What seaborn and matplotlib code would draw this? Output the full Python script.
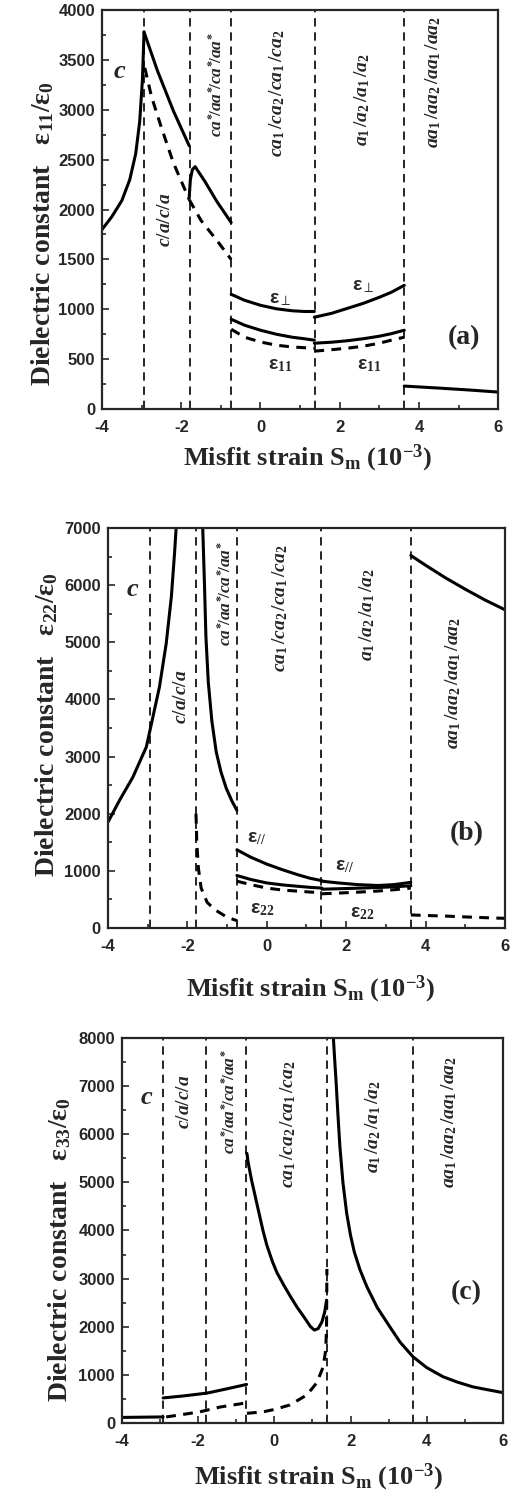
import matplotlib
matplotlib.use("Agg")
import matplotlib.pyplot as plt
import seaborn as sns
from matplotlib.ticker import MultipleLocator

# phase boundaries (misfit strain, 10^-3)
bounds = [-2.93, -1.79, -0.74, 1.37, 3.63]

# ---- panel (a): eps11 ----
a_c_x = [-4.0, -3.75, -3.5, -3.3, -3.15, -3.05, -2.98, -2.94]
a_c_y = [1800, 1930, 2090, 2300, 2560, 2880, 3300, 3780]
a_ca_x = [-2.94, -2.6, -2.2, -1.80]
a_ca_y = [3780, 3390, 2990, 2640]
a_ca_dx = [-2.92, -2.75, -2.5, -2.2, -1.80]
a_ca_dy = [3420, 3130, 2820, 2470, 2100]
a_cs_x = [-1.80, -1.77, -1.72, -1.65, -1.4, -1.1, -0.74]
a_cs_y = [2120, 2300, 2400, 2430, 2280, 2080, 1870]
a_cs_dx = [-1.80, -1.5, -1.1, -0.74]
a_cs_dy = [2100, 1890, 1690, 1500]
a_ca1_x = [-0.74, -0.4, 0.0, 0.4, 0.8, 1.1, 1.36]
a_ca1_perp = [1150, 1090, 1040, 1005, 985, 978, 978]
a_ca1_y = [900, 840, 790, 750, 720, 705, 690]
a_ca1_d = [800, 720, 672, 640, 622, 615, 610]
a_a1_x = [1.36, 1.8, 2.2, 2.6, 3.0, 3.3, 3.63]
a_a1_perp = [920, 960, 1010, 1060, 1120, 1170, 1240]
a_a1_y = [660, 670, 685, 705, 730, 755, 790]
a_a1_d = [580, 595, 610, 630, 660, 690, 720]
a_aa_x = [3.63, 4.5, 5.3, 6.0]
a_aa_y = [230, 210, 190, 170]

# ---- panel (b): eps22 ----
b_c_x = [-4.0, -3.71, -3.37, -3.03, -2.91, -2.70, -2.53, -2.40, -2.32, -2.28]
b_c_y = [1850, 2230, 2640, 3170, 3550, 4220, 4980, 5800, 6560, 7000]
b_cs_x = [-1.61, -1.57, -1.53, -1.47, -1.38, -1.27, -1.15, -1.02, -0.88, -0.75]
b_cs_y = [7000, 6100, 5100, 4300, 3620, 3080, 2730, 2450, 2230, 2060]
b_cs_dx = [-1.78, -1.76, -1.72, -1.65, -1.5, -1.3, -1.0, -0.75]
b_cs_dy = [2000, 1500, 1050, 700, 450, 320, 190, 130]
b_ca1_x = [-0.75, -0.4, 0.0, 0.4, 0.8, 1.1, 1.39]
b_ca1_par = [1370, 1240, 1120, 1020, 930, 870, 830]
b_ca1_y = [920, 850, 790, 755, 730, 712, 700]
b_ca1_d = [820, 760, 700, 665, 645, 630, 620]
b_a1_x = [1.39, 1.8, 2.3, 2.8, 3.2, 3.63]
b_a1_par = [820, 790, 760, 745, 760, 800]
b_a1_y = [680, 688, 698, 710, 722, 740]
b_a1_d = [600, 612, 628, 648, 670, 700]
b_aa_x = [3.63, 4.0, 4.5, 5.0, 5.5, 6.0]
b_aa_y = [6520, 6350, 6130, 5930, 5740, 5570]
b_aa_d = [230, 220, 210, 195, 182, 170]

# ---- panel (c): eps33 ----
c_c_x = [-4.0, -2.92]
c_c_y = [115, 125]
c_ca_x = [-2.92, -2.4, -1.77, -1.3, -0.73]
c_ca_y = [520, 560, 620, 700, 800]
c_ca_dx = [-2.84, -2.49, -1.96, -1.43, -0.91, -0.73]
c_ca_dy = [125, 166, 230, 330, 395, 420]
c_ca1_x = [-0.72, -0.69, -0.6, -0.5, -0.4, -0.3, -0.2, -0.05, 0.07, 0.25, 0.42, 0.6,
           0.77, 0.95, 1.05, 1.15, 1.25, 1.32, 1.37]
c_ca1_y = [5600, 5420, 5050, 4700, 4350, 4000, 3700, 3350, 3120, 2860, 2630, 2400,
           2210, 2000, 1930, 1960, 2100, 2300, 2550]
c_ca1_dx = [-0.72, -0.3, 0.0, 0.41, 0.85, 1.11, 1.28, 1.35, 1.37, 1.38]
c_ca1_dy = [200, 230, 280, 374, 580, 830, 1160, 1520, 2000, 3200]
c_a1_x = [1.55, 1.58, 1.62, 1.67, 1.72, 1.80, 1.90, 2.0, 2.1, 2.25, 2.43, 2.7, 3.03, 3.3,
          3.64, 4.0, 4.43, 4.8, 5.21, 5.6, 6.0]
c_a1_y = [8000, 7600, 7100, 6400, 5750, 5000, 4350, 3900, 3550, 3180, 2830, 2400, 2000,
          1680, 1375, 1150, 960, 850, 750, 690, 630]

phase_labels = [r"$c/a/c/a$", r"$ca^{*}\!/aa^{*}\!/ca^{*}\!/aa^{*}$",
                r"$ca_1\,/ca_2\,/ca_1\,/ca_2$",
                r"$a_1\,/a_2\,/a_1\,/a_2$", r"$aa_1\,/aa_2\,/aa_1\,/aa_2$"]
phase_sizes = [14, 12.5, 14, 14, 14]

sns.set_style("ticks")
plt.rcParams["font.family"] = ["Liberation Serif", "DejaVu Serif"]
plt.rcParams["mathtext.fontset"] = "custom"
plt.rcParams["mathtext.rm"] = "Liberation Serif:bold"
plt.rcParams["mathtext.it"] = "Liberation Serif:italic:bold"
plt.rcParams["mathtext.bf"] = "Liberation Serif:bold"
plt.rcParams["axes.unicode_minus"] = False

fig = plt.figure(figsize=(5.26, 15.01), dpi=100)
ax_a = fig.add_axes([0.194, 0.7275, 0.753, 0.2658])
ax_b = fig.add_axes([0.205, 0.3817, 0.755, 0.2665])
ax_c = fig.add_axes([0.232, 0.0520, 0.724, 0.2565])

LW = 2.2
DASH = (0, (3.2, 2.4))


def seg(ax, x, y, dashed=False):
    sns.lineplot(x=x, y=y, ax=ax, color="black", lw=LW, sort=False, estimator=None,
                 linestyle=DASH if dashed else "-")


def style(ax, ymax, ymaj, ymin, ylab, ylab_xy, xlab_xy):
    for b in bounds:
        ax.axvline(b, color="black", lw=1.2, linestyle=(0, (5, 3.5)), zorder=1)
    ax.set_xlim(-4, 6)
    ax.set_ylim(0, ymax)
    ax.xaxis.set_major_locator(MultipleLocator(2))
    ax.xaxis.set_minor_locator(MultipleLocator(1))
    ax.yaxis.set_major_locator(MultipleLocator(ymaj))
    ax.yaxis.set_minor_locator(MultipleLocator(ymin))
    ax.tick_params(which="both", direction="in", width=1.2, top=False, right=False)
    ax.tick_params(which="major", length=5)
    ax.tick_params(which="minor", length=3)
    ax.tick_params(axis="x", pad=8)
    ax.tick_params(axis="y", pad=5)
    for lab in ax.get_xticklabels() + ax.get_yticklabels():
        lab.set_fontfamily("Liberation Sans")
        lab.set_fontweight("bold")
        lab.set_fontsize(12)
    for s in ax.spines.values():
        s.set_linewidth(1.6)
    ax.set_ylabel("Dielectric constant   " + ylab, fontsize=20, fontweight="bold")
    ax.yaxis.set_label_coords(*ylab_xy)
    ax.set_xlabel(r"Misfit strain S$_{\rm m}$ (10$^{-3}$)", fontsize=19, fontweight="bold")
    ax.xaxis.set_label_coords(*xlab_xy)


def phases(ax, xs, ys):
    for lab, x, y, fs in zip(phase_labels, xs, ys, phase_sizes):
        ax.text(x, y, lab, rotation=90, ha="center", va="center", fontsize=fs)


def eps(ax, x, y, sub):
    ax.text(x, y, "ε" + r"$_{" + sub + "}$", ha="center", va="center", fontsize=14,
            fontweight="bold", family=["Liberation Sans", "DejaVu Sans"])


# panel (a)
seg(ax_a, a_c_x, a_c_y)
seg(ax_a, a_ca_x, a_ca_y)
seg(ax_a, a_ca_dx, a_ca_dy, True)
seg(ax_a, a_cs_x, a_cs_y)
seg(ax_a, a_cs_dx, a_cs_dy, True)
seg(ax_a, a_ca1_x, a_ca1_perp)
seg(ax_a, a_ca1_x, a_ca1_y)
seg(ax_a, a_ca1_x, a_ca1_d, True)
seg(ax_a, a_a1_x, a_a1_perp)
seg(ax_a, a_a1_x, a_a1_y)
seg(ax_a, a_a1_x, a_a1_d, True)
seg(ax_a, a_aa_x, a_aa_y)
style(ax_a, 4000, 500, 250, r"ε$_{11}$/ε$_0$", (-0.115, 0.44), (0.52, -0.085))
phases(ax_a, [-2.4, -1.1, 0.42, 2.56, 4.37], [1900, 3250, 3170, 3100, 3280])
ax_a.text(-3.55, 3380, "c", fontsize=19, fontstyle="italic", fontweight="bold",
          ha="center", va="center")
ax_a.text(5.15, 720, "(a)", fontsize=20, fontweight="bold", ha="center", va="center")
eps(ax_a, 0.5, 1100, r"\perp")
eps(ax_a, 2.6, 1230, r"\perp")
eps(ax_a, 0.5, 440, "11")
eps(ax_a, 2.75, 440, "11")

# panel (b)
seg(ax_b, b_c_x, b_c_y)
seg(ax_b, b_cs_x, b_cs_y)
seg(ax_b, b_cs_dx, b_cs_dy, True)
seg(ax_b, b_ca1_x, b_ca1_par)
seg(ax_b, b_ca1_x, b_ca1_y)
seg(ax_b, b_ca1_x, b_ca1_d, True)
seg(ax_b, b_a1_x, b_a1_par)
seg(ax_b, b_a1_x, b_a1_y)
seg(ax_b, b_a1_x, b_a1_d, True)
seg(ax_b, b_aa_x, b_aa_y)
seg(ax_b, b_aa_x, b_aa_d, True)
style(ax_b, 7000, 1000, 500, r"ε$_{22}$/ε$_0$", (-0.12, 0.51), (0.51, -0.115))
phases(ax_b, [-2.15, -1.02, 0.33, 2.52, 4.69], [4050, 5850, 5600, 5480, 4290])
ax_b.text(-3.37, 5920, "c", fontsize=19, fontstyle="italic", fontweight="bold",
          ha="center", va="center")
ax_b.text(5.04, 1650, "(b)", fontsize=20, fontweight="bold", ha="center", va="center")
eps(ax_b, -0.25, 1560, "//")
eps(ax_b, 1.95, 1080, "//")
eps(ax_b, -0.1, 330, "22")
eps(ax_b, 2.4, 260, "22")

# panel (c)
seg(ax_c, c_c_x, c_c_y)
seg(ax_c, c_ca_x, c_ca_y)
seg(ax_c, c_ca_dx, c_ca_dy, True)
seg(ax_c, c_ca1_x, c_ca1_y)
seg(ax_c, c_ca1_dx, c_ca1_dy, True)
seg(ax_c, c_a1_x, c_a1_y)
style(ax_c, 8000, 1000, 500, r"ε$_{33}$/ε$_0$", (-0.128, 0.45), (0.515, -0.10))
phases(ax_c, [-2.35, -1.17, 0.36, 2.6, 4.6], [6670, 6680, 6200, 6150, 6260])
ax_c.text(-3.35, 6770, "c", fontsize=19, fontstyle="italic", fontweight="bold",
          ha="center", va="center")
ax_c.text(5.05, 2700, "(c)", fontsize=20, fontweight="bold", ha="center", va="center")

fig.savefig("out.png", dpi=100)
